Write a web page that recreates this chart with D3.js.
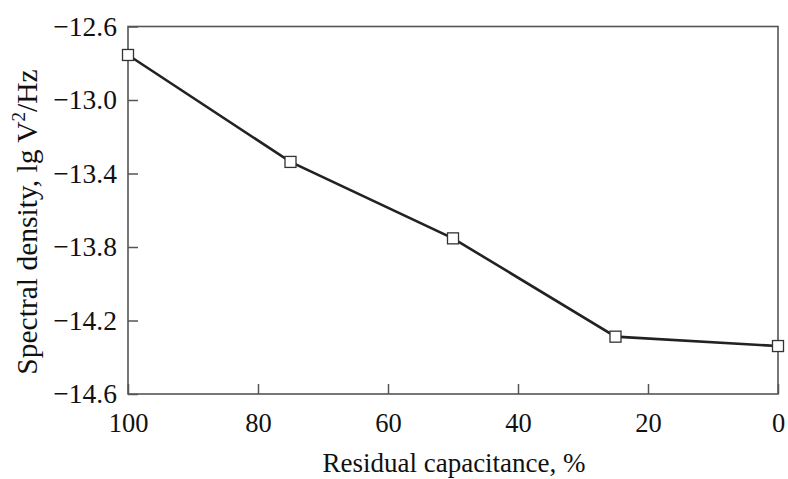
<!DOCTYPE html>
<html>
<head>
<meta charset="utf-8">
<script src="https://cdn.jsdelivr.net/npm/d3@7"></script>
<style>
  body { margin: 0; background: #fff; }
  text { font-family: "Liberation Serif", "Times New Roman", serif; fill: #111; }
</style>
</head>
<body>
<script>
let capacitance = [100, 75, 50, 25, 0];
let density = [-12.755, -13.337, -13.753, -14.288, -14.339];
let xTicks = [100, 80, 60, 40, 20, 0];
let yTicks = [-12.6, -13.0, -13.4, -13.8, -14.2, -14.6];

let width = 788, height = 479;
let plotL = 128, plotR = 778, plotT = 26.5, plotB = 394;

let svg = d3.select("body").append("svg").attr("width", width).attr("height", height);

let x = d3.scaleLinear().domain([100, 0]).range([plotL, plotR]);
let y = d3.scaleLinear().domain([-12.6, -14.6]).range([plotT, plotB]);

// frame
svg.append("rect")
  .attr("x", plotL).attr("y", plotT)
  .attr("width", plotR - plotL).attr("height", plotB - plotT)
  .attr("fill", "none").attr("stroke", "#555").attr("stroke-width", 1.6);

let fmt = d => (d < 0 ? "\u2212" : "") + Math.abs(d).toFixed(1);

// x axis (ticks pointing inward)
let xAxis = svg.append("g")
  .attr("transform", "translate(0," + plotB + ")")
  .call(d3.axisBottom(x).tickValues(xTicks).tickSize(-10).tickPadding(19).tickFormat(d3.format("d")));
xAxis.select(".domain").remove();
xAxis.selectAll("line").attr("stroke", "#555").attr("stroke-width", 1.5);
xAxis.selectAll("text").attr("font-size", 26.5);

// y axis
let yAxis = svg.append("g")
  .attr("transform", "translate(" + plotL + ",0)")
  .call(d3.axisLeft(y).tickValues(yTicks).tickSize(-10).tickPadding(11).tickFormat(fmt));
yAxis.select(".domain").remove();
yAxis.selectAll("line").attr("stroke", "#555").attr("stroke-width", 1.5);
yAxis.selectAll("text").attr("font-size", 27.5);

// line
let pts = capacitance.map((c, i) => [c, density[i]]);
svg.append("path")
  .datum(pts)
  .attr("fill", "none")
  .attr("stroke", "#222")
  .attr("stroke-width", 2.6)
  .attr("d", d3.line().x(d => x(d[0])).y(d => y(d[1])));

// markers
let s = 11;
svg.selectAll("rect.mark")
  .data(pts)
  .enter().append("rect")
    .attr("class", "mark")
    .attr("x", d => x(d[0]) - s / 2)
    .attr("y", d => y(d[1]) - s / 2)
    .attr("width", s).attr("height", s)
    .attr("fill", "#fff").attr("stroke", "#333").attr("stroke-width", 1.3);

// axis titles
svg.append("text")
  .attr("x", 454).attr("y", 472)
  .attr("text-anchor", "middle").attr("font-size", 27)
  .text("Residual capacitance, %");

let yt = svg.append("text")
  .attr("transform", "translate(37,222) rotate(-90)")
  .attr("text-anchor", "middle").attr("font-size", 29.5);
yt.append("tspan").text("Spectral density, lg V");
yt.append("tspan").attr("dy", -12).attr("font-size", 19).text("2");
yt.append("tspan").attr("dy", 12).text("/Hz");
</script>
</body>
</html>
